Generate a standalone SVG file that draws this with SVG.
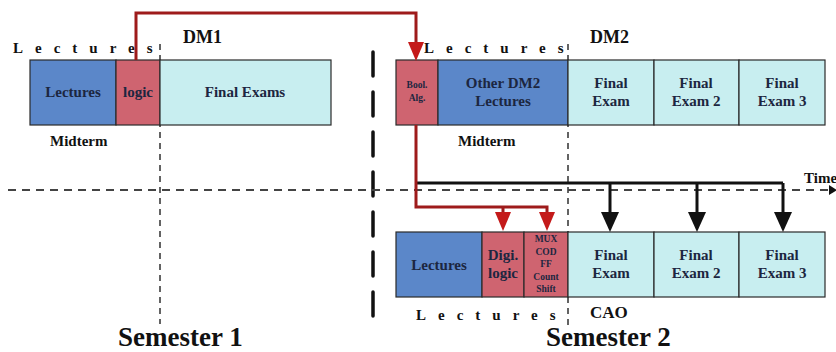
<svg xmlns="http://www.w3.org/2000/svg" width="836" height="352" viewBox="0 0 836 352">
  <defs>
    <marker id="arrRed" viewBox="0 0 19 16" refX="0" refY="8" markerWidth="19" markerHeight="16" markerUnits="userSpaceOnUse" orient="auto">
      <path d="M0,0 L19,8 L0,16 z" fill="#c41a1a"/>
    </marker>
    <marker id="arrBlack" viewBox="0 0 20 18" refX="0" refY="9" markerWidth="20" markerHeight="18" markerUnits="userSpaceOnUse" orient="auto">
      <path d="M0,0 L20,9 L0,18 z" fill="#111"/>
    </marker>
    <marker id="arrTime" viewBox="0 0 8 10" refX="0" refY="5" markerWidth="8" markerHeight="10" markerUnits="userSpaceOnUse" orient="auto">
      <path d="M0,0 L8,5 L0,10 z" fill="#111"/>
    </marker>
  </defs>
  <style>
    text { font-family: "Liberation Serif", "Times New Roman", serif; font-weight: bold; fill: #1c2640; }
    .box { stroke: #2a2a2a; stroke-width: 1.2; }
    .blue { fill: #5b87c9; }
    .red { fill: #cf6470; }
    .cyan { fill: #c8eef0; }
    .lbl { font-size: 15px; text-anchor: middle; }
    .small { font-size: 9.5px; text-anchor: middle; }
    .spaced { font-size: 15px; letter-spacing: 12px; fill: #111; }
    .head { font-size: 18px; fill: #111; }
    .note { font-size: 15px; fill: #111; }
    .sem { font-size: 27px; fill: #111; }
    .thin { stroke: #222; stroke-width: 1.4; stroke-dasharray: 6 5; fill: none; }
    .redline { stroke: #9e1b1b; stroke-width: 3; fill: none; }
    .blackline { stroke: #111; stroke-width: 3; fill: none; }
  </style>

  <rect width="836" height="352" fill="#ffffff"/>

  <!-- guide lines: semester split, course boundaries, time axis -->
  <g id="guides">
    <line x1="373" y1="52" x2="373" y2="331" stroke="#111" stroke-width="3.5" stroke-linecap="round" stroke-dasharray="24 16"/>
    <line x1="160" y1="44" x2="160" y2="324" class="thin"/>
    <line x1="568" y1="44" x2="568" y2="328" class="thin"/>
    <line x1="8" y1="190" x2="829" y2="190" stroke="#444" stroke-width="2" stroke-dasharray="8 6" marker-end="url(#arrTime)"/>
    <text x="804" y="183" class="note">Time</text>
  </g>

  <!-- Semester 1: DM1 -->
  <g id="dm1">
    <text x="13" y="53" class="spaced">Lectures</text>
    <text x="183" y="43" class="head">DM1</text>
    <rect x="30" y="60" width="86" height="65" class="box blue"/>
    <rect x="116" y="60" width="44" height="65" class="box red"/>
    <rect x="160" y="60" width="171" height="65" class="box cyan"/>
    <text x="73" y="97" class="lbl">Lectures</text>
    <text x="138" y="97" class="lbl">logic</text>
    <text x="245" y="97" class="lbl">Final Exams</text>
    <text x="50" y="146" class="note">Midterm</text>
  </g>

  <!-- Semester 2: DM2 -->
  <g id="dm2">
    <text x="424" y="53" class="spaced">Lectures</text>
    <text x="590" y="43" class="head">DM2</text>
    <rect x="396" y="60" width="42" height="65" class="box red"/>
    <rect x="438" y="60" width="130" height="65" class="box blue"/>
    <rect x="568" y="60" width="86" height="65" class="box cyan"/>
    <rect x="654" y="60" width="85" height="65" class="box cyan"/>
    <rect x="739" y="60" width="86" height="65" class="box cyan"/>
    <text x="417" y="88" class="small">Bool.</text>
    <text x="417" y="101" class="small">Alg.</text>
    <text x="503" y="88" class="lbl">Other DM2</text>
    <text x="503" y="106" class="lbl">Lectures</text>
    <text x="611" y="88" class="lbl">Final</text>
    <text x="611" y="106" class="lbl">Exam</text>
    <text x="696" y="88" class="lbl">Final</text>
    <text x="696" y="106" class="lbl">Exam 2</text>
    <text x="782" y="88" class="lbl">Final</text>
    <text x="782" y="106" class="lbl">Exam 3</text>
    <text x="458" y="146" class="note">Midterm</text>
  </g>

  <!-- Semester 2: CAO -->
  <g id="cao">
    <rect x="396" y="232" width="86" height="65" class="box blue"/>
    <rect x="482" y="232" width="42" height="65" class="box red"/>
    <rect x="524" y="232" width="44" height="65" class="box red"/>
    <rect x="568" y="232" width="86" height="65" class="box cyan"/>
    <rect x="654" y="232" width="85" height="65" class="box cyan"/>
    <rect x="739" y="232" width="86" height="65" class="box cyan"/>
    <text x="439" y="270" class="lbl">Lectures</text>
    <text x="503" y="260" class="lbl">Digi.</text>
    <text x="503" y="278" class="lbl">logic</text>
    <text x="546" y="242" class="small">MUX</text>
    <text x="546" y="254.5" class="small">COD</text>
    <text x="546" y="267" class="small">FF</text>
    <text x="546" y="279.5" class="small">Count</text>
    <text x="546" y="292" class="small">Shift</text>
    <text x="611" y="260" class="lbl">Final</text>
    <text x="611" y="278" class="lbl">Exam</text>
    <text x="696" y="260" class="lbl">Final</text>
    <text x="696" y="278" class="lbl">Exam 2</text>
    <text x="782" y="260" class="lbl">Final</text>
    <text x="782" y="278" class="lbl">Exam 3</text>
    <text x="416" y="320" class="spaced">Lectures</text>
    <text x="590" y="318" class="head" style="font-size:17px">CAO</text>
  </g>

  <!-- semester titles -->
  <g id="semesters">
    <text x="118" y="346" class="sem">Semester 1</text>
    <text x="546" y="346" class="sem">Semester 2</text>
  </g>

  <!-- connectors -->
  <g id="connectors">
    <path d="M416,183 H783" class="blackline"/>
    <path d="M610,183 V212" class="blackline" marker-end="url(#arrBlack)"/>
    <path d="M697,183 V212" class="blackline" marker-end="url(#arrBlack)"/>
    <path d="M783,183 V212" class="blackline" marker-end="url(#arrBlack)"/>
    <path d="M136,60 V13 H416 V42" class="redline" marker-end="url(#arrRed)"/>
    <path d="M416,125 V207 H547 V212" class="redline" marker-end="url(#arrRed)"/>
    <path d="M503,207 V212" class="redline" marker-end="url(#arrRed)"/>
  </g>
</svg>
